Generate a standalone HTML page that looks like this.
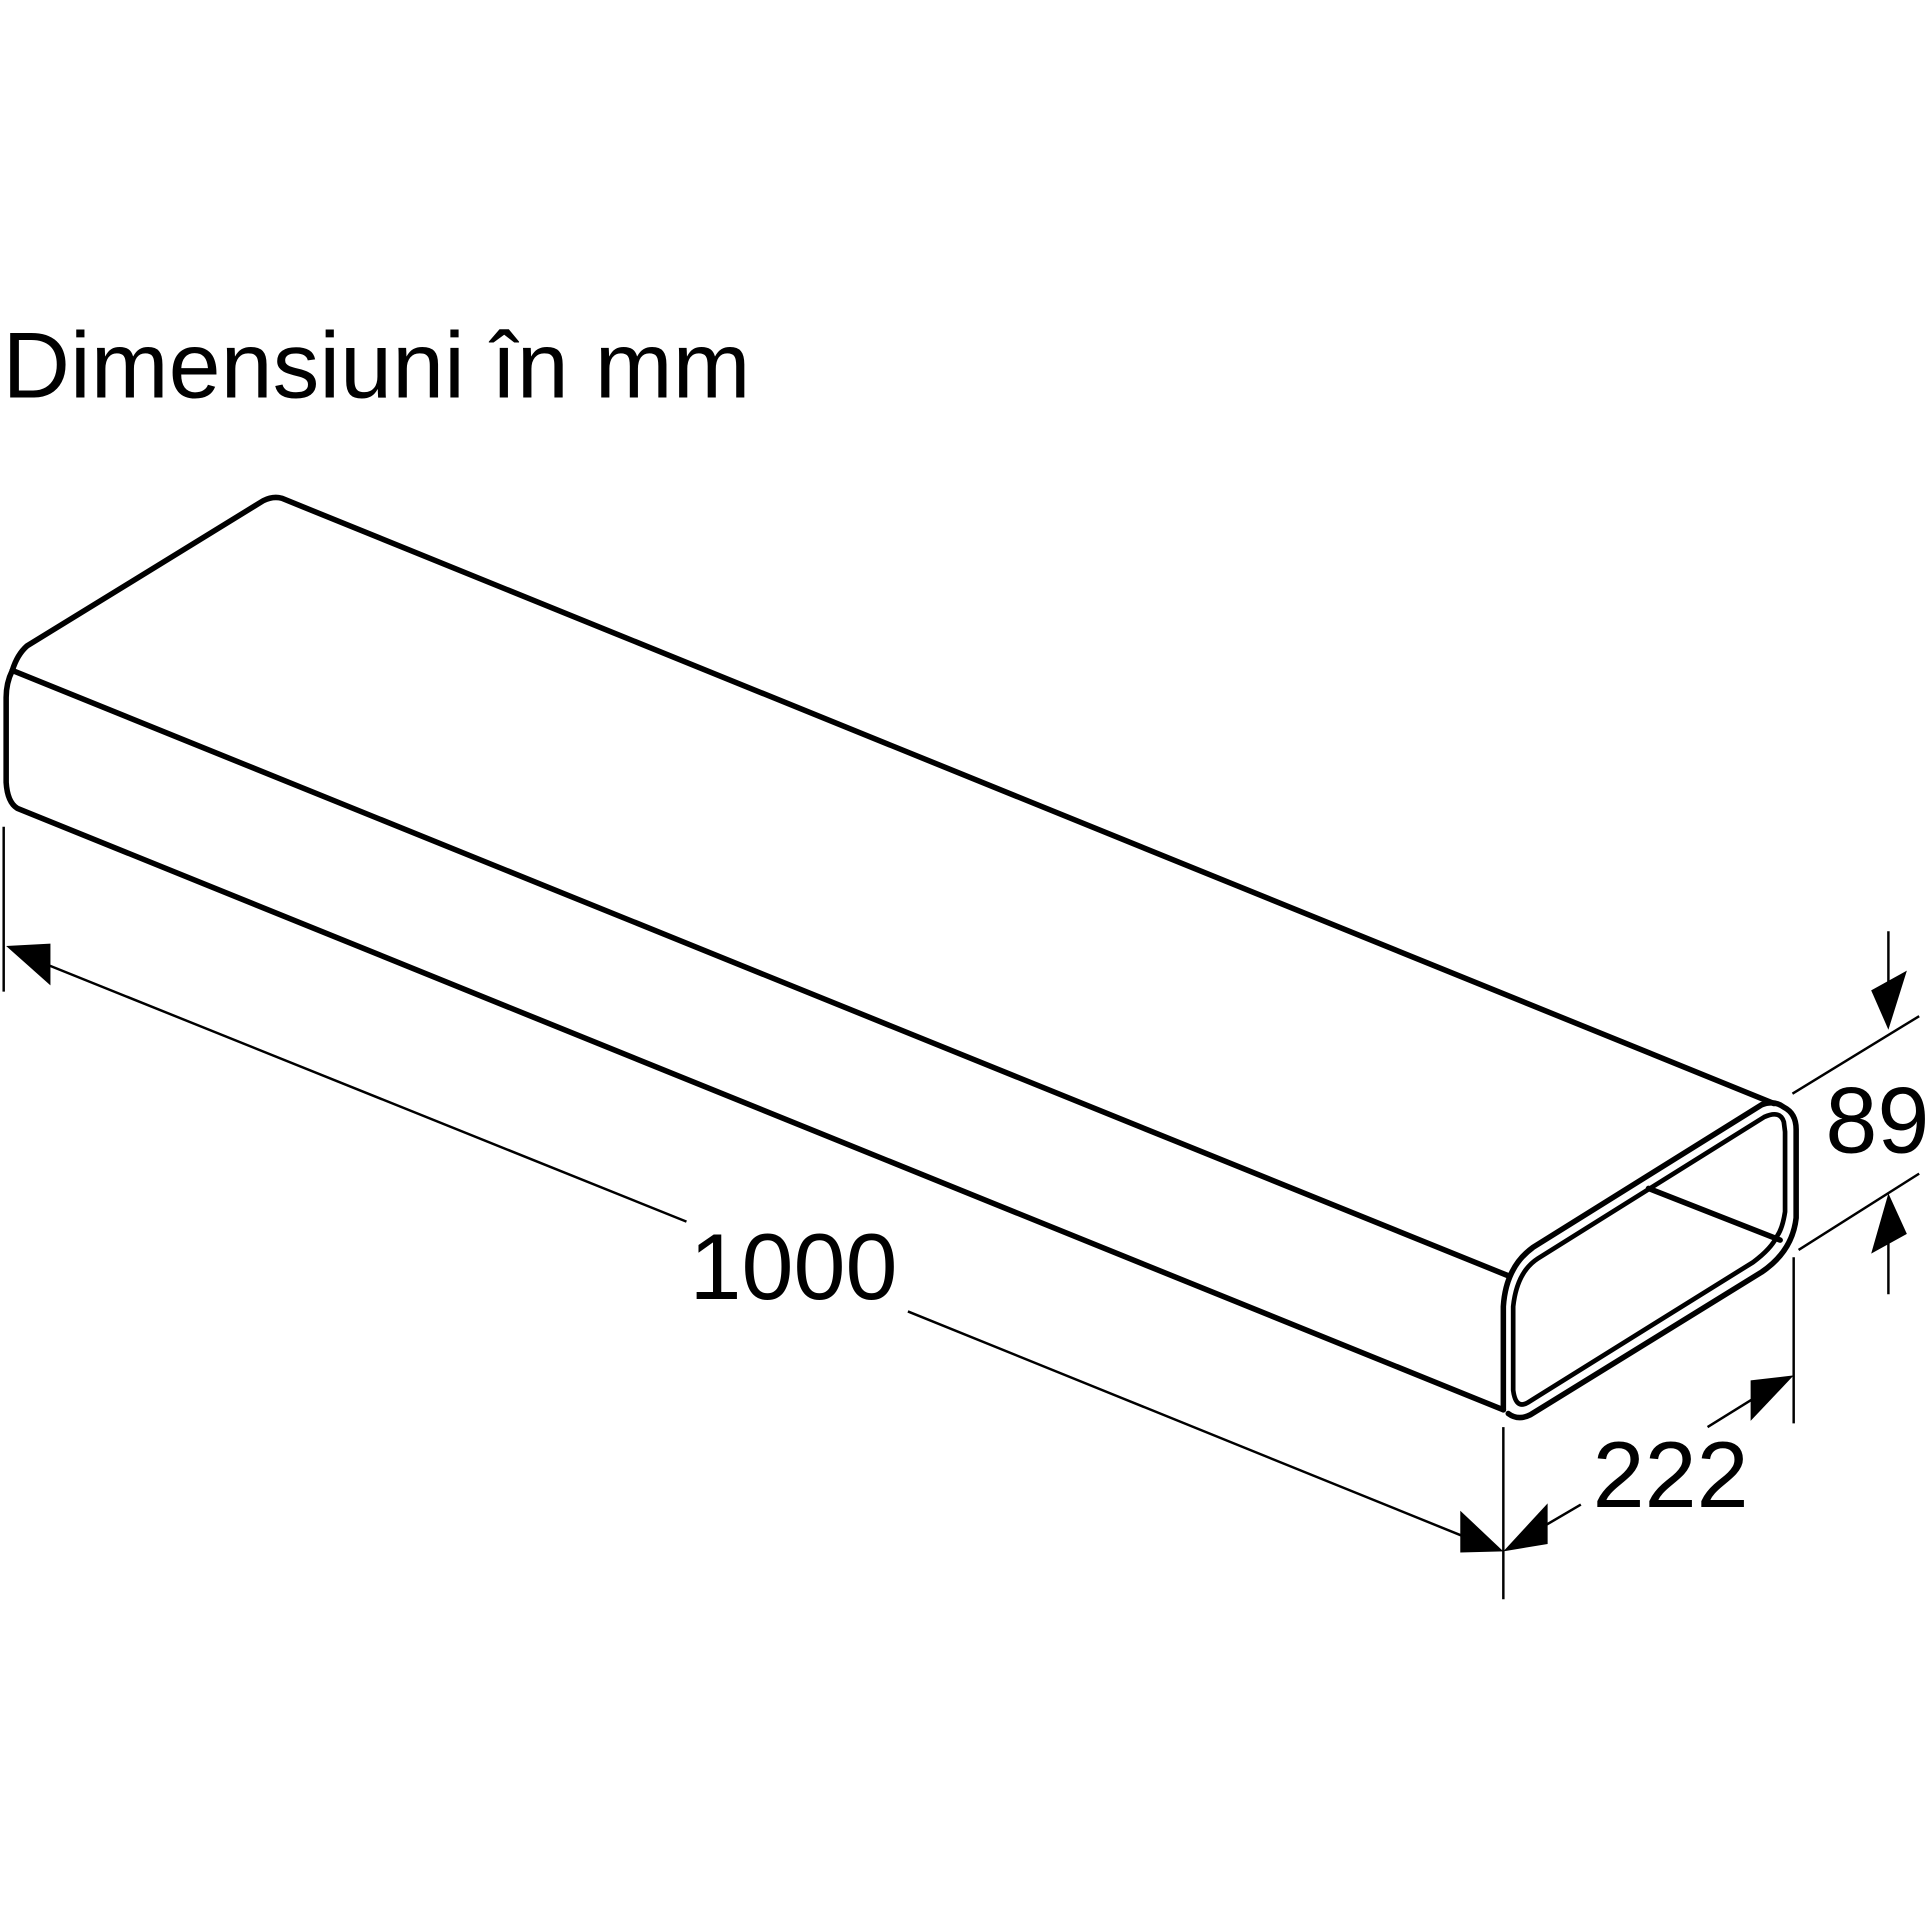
<!DOCTYPE html>
<html><head><meta charset="utf-8"><style>
html,body{margin:0;padding:0;background:#fff;}
svg{display:block;}
text{font-family:"Liberation Sans",Arial,sans-serif;fill:#000;}
</style></head><body>
<svg width="1929" height="1929" viewBox="0 0 1568 1568" xmlns="http://www.w3.org/2000/svg">
<rect width="1568" height="1568" fill="#fff"/>
<text x="2" y="323" font-size="76">Dimensiuni în mm</text>
<g fill="none" stroke="#000" stroke-width="4.5" stroke-linejoin="round" stroke-linecap="round">
<path d="M10,545 Q14,532 22,525 L214,407 Q222,403 229,405 L1442,897"/>
<path d="M10,545 Q5,555 5,567 L5,636 Q6,652 14,657 L1222,1146"/>
<path d="M10,545 L1226,1037"/>
<path d="M1222,1146 L1222,1062 Q1224,1030 1246,1014 L1432,898 Q1442,894 1450,900 Q1460,905 1460,918 L1460,990 Q1457,1017 1432,1034 L1244,1150 Q1234,1155 1226,1149"/>
<path d="M1230,1062 Q1233,1034 1250,1023 L1434,908 Q1447,902 1450,912 L1451,920 L1451,985 Q1449,998 1445,1004 Q1440,1015 1425,1026 L1242,1140 Q1232,1146 1230,1130 Z" stroke-width="3.8"/>
<path d="M1340,966 L1447,1008"/>
</g>
<g fill="none" stroke="#000" stroke-width="2">
<line x1="3" y1="672" x2="3" y2="806"/>
<line x1="38" y1="784" x2="558" y2="993"/>
<line x1="738" y1="1066" x2="1190" y2="1249"/>
<line x1="1222" y1="1160" x2="1222" y2="1300"/>
<line x1="1256" y1="1240" x2="1285" y2="1223"/>
<line x1="1388" y1="1160" x2="1425" y2="1137"/>
<line x1="1458" y1="1022" x2="1458" y2="1157"/>
<line x1="1457" y1="889" x2="1560" y2="826"/>
<line x1="1462" y1="1016" x2="1560" y2="954"/>
<line x1="1535" y1="757" x2="1535" y2="810"/>
<line x1="1535" y1="1000" x2="1535" y2="1052"/>
</g>
<g fill="#000">
<polygon points="5,769 41,767 41,801"/>
<polygon points="1222,1261 1187,1228 1187,1262"/>
<polygon points="1222,1261 1258,1222 1258,1255"/>
<polygon points="1458,1118 1423,1122 1423,1155"/>
<polygon points="1535,837 1521,805 1550,789"/>
<polygon points="1535,970 1550,1003 1521,1019"/>
</g>
<text x="645" y="1056" font-size="76" text-anchor="middle">1000</text>
<text x="1358" y="1225" font-size="76" text-anchor="middle">222</text>
<text x="1526" y="937" font-size="76" text-anchor="middle">89</text>
</svg>
</body></html>
